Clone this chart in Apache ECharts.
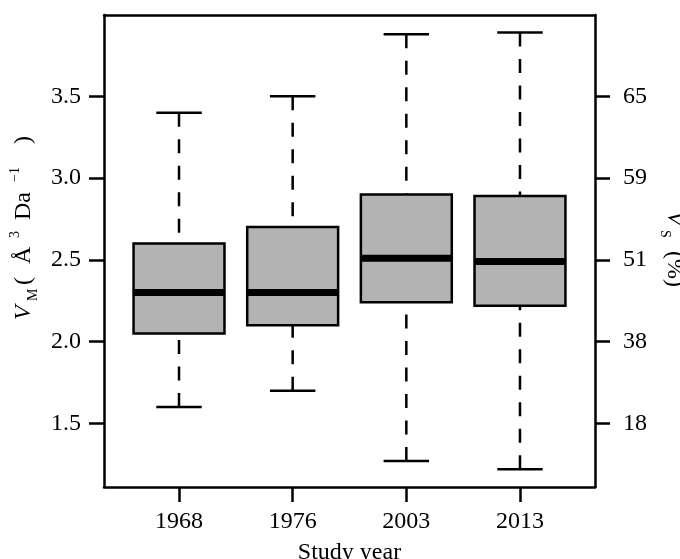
<!DOCTYPE html>
<html>
<head>
<meta charset="utf-8">
<script src="https://cdn.jsdelivr.net/npm/echarts@6/dist/echarts.min.js"></script>
<style>
html, body { margin: 0; padding: 0; background: #fff; }
#chart { width: 680px; height: 559px; }
</style>
</head>
<body>
<div id="chart"></div>
<script>
// Matthews coefficient (V_M) distribution per study year
const studyYears   = ['1968', '1976', '2003', '2013'];
const whiskerLow   = [1.60, 1.70, 1.27, 1.22];
const quartileLow  = [2.05, 2.10, 2.24, 2.22];
const medians      = [2.30, 2.30, 2.51, 2.49];
const quartileHigh = [2.60, 2.70, 2.90, 2.89];
const whiskerHigh  = [3.40, 3.50, 3.88, 3.89];

// Tick positions on the V_M scale and the matching solvent-content labels
const vmTicks       = [1.5, 2.0, 2.5, 3.0, 3.5];
const vmTickLabels  = ['1.5', '2.0', '2.5', '3.0', '3.5'];
const solventLabels = ['18', '38', '51', '59', '65'];

const yearPositions = studyYears.map((_, i) => i + 1);
const boxRows = studyYears.map((_, i) => [
  yearPositions[i], whiskerLow[i], quartileLow[i], medians[i], quartileHigh[i], whiskerHigh[i]
]);

const FONT = 'Liberation Serif';
const INK = '#000';
const LW = 2.5;

function labelFor(values, labels) {
  return v => {
    const k = values.findIndex(t => Math.abs(t - v) < 1e-6);
    return k >= 0 ? labels[k] : '';
  };
}

const baseLabel = { fontFamily: FONT, fontSize: 24, color: INK };

// rich-text token styles for the axis titles (plotmath-like spacing)
function tok(size, width, extra) {
  return Object.assign({ fontFamily: FONT, fontSize: size, fontStyle: 'normal', color: INK,
    lineHeight: size > 20 ? 32 : 14, width: width, align: 'left' }, extra || {});
}
const SUB = { verticalAlign: 'bottom' };
const SUP = { verticalAlign: 'top' };

const chart = echarts.init(document.getElementById('chart'), null, { renderer: 'canvas' });

chart.setOption({
  backgroundColor: '#fff',
  animation: false,
  grid: { left: 104, top: 15, width: 491, height: 472, containLabel: false, outerBoundsMode: 'none' },
  xAxis: [
    {
      type: 'value', position: 'bottom', min: 0.34, max: 4.66,
      axisLine: { onZero: false, lineStyle: { color: INK, width: LW } },
      axisTick: { customValues: yearPositions, length: 15, lineStyle: { color: INK, width: LW } },
      axisLabel: Object.assign({ customValues: yearPositions, margin: 23,
        formatter: v => studyYears[Math.round(v) - 1] }, baseLabel),
      splitLine: { show: false },
      name: 'Study year', nameLocation: 'middle', nameGap: 54,
      nameTextStyle: baseLabel
    },
    {
      type: 'value', position: 'top', min: 0.34, max: 4.66,
      axisLine: { onZero: false, lineStyle: { color: INK, width: LW } },
      axisTick: { show: false }, axisLabel: { show: false }, splitLine: { show: false }
    }
  ],
  yAxis: [
    {
      type: 'value', position: 'left', min: 1.111, max: 3.997,
      axisLine: { onZero: false, lineStyle: { color: INK, width: LW } },
      axisTick: { customValues: vmTicks, length: 15, lineStyle: { color: INK, width: LW } },
      axisLabel: Object.assign({ customValues: vmTicks, margin: 23,
        formatter: labelFor(vmTicks, vmTickLabels) }, baseLabel),
      splitLine: { show: false },
      name: '{pad| }{v|V}{m|M}{lp|(}{ang|Å}{s3|3}{da|Da}{sm|−1}{rp|)}',
      nameLocation: 'middle', nameGap: 62,
      nameTextStyle: {
        fontFamily: FONT, color: INK,
        rich: {
          pad: tok(24, 48),
          v:   tok(24, 19, { fontStyle: 'italic' }),
          m:   tok(14, 16, SUB),
          lp:  tok(24, 21),
          ang: tok(24, 26),
          s3:  tok(14, 18, SUP),
          da:  tok(24, 38),
          sm:  tok(14, 38, SUP),
          rp:  tok(24, 10)
        }
      }
    },
    {
      type: 'value', position: 'right', min: 1.111, max: 3.997,
      axisLine: { onZero: false, lineStyle: { color: INK, width: LW } },
      axisTick: { customValues: vmTicks, length: 15, lineStyle: { color: INK, width: LW } },
      axisLabel: Object.assign({ customValues: vmTicks, margin: 28,
        formatter: labelFor(vmTicks, solventLabels) }, baseLabel),
      splitLine: { show: false },
      name: '{v|V}{s|S}{t|(%)}',
      nameLocation: 'middle', nameGap: 57, nameRotate: -90,
      nameTextStyle: {
        fontFamily: FONT, color: INK,
        rich: {
          v: tok(24, 19, { fontStyle: 'italic' }),
          s: tok(14, 21, SUB),
          t: tok(24, 40)
        }
      }
    }
  ],
  series: [{
    type: 'custom',
    xAxisIndex: 0, yAxisIndex: 0,
    clip: false,
    encode: { x: 0, y: [1, 2, 3, 4, 5] },
    data: boxRows,
    renderItem: function (params, api) {
      const x = api.value(0);
      const pLow = api.coord([x, api.value(1)]);
      const pQ1 = api.coord([x, api.value(2)]);
      const pMed = api.coord([x, api.value(3)]);
      const pQ3 = api.coord([x, api.value(4)]);
      const pHigh = api.coord([x, api.value(5)]);
      const boxW = api.size([0.8, 0])[0];
      const stapleW = boxW / 2;
      const cx = pLow[0];
      const dashed = { stroke: INK, lineWidth: LW, lineDash: [14, 12.5], fill: null };
      const solid = { stroke: INK, lineWidth: LW, fill: null };
      return {
        type: 'group',
        children: [
          { type: 'line', shape: { x1: cx, y1: pHigh[1], x2: cx, y2: pQ3[1] }, style: dashed },
          { type: 'line', shape: { x1: cx, y1: pLow[1], x2: cx, y2: pQ1[1] }, style: dashed },
          { type: 'line', shape: { x1: cx - stapleW / 2, y1: pHigh[1], x2: cx + stapleW / 2, y2: pHigh[1] }, style: solid },
          { type: 'line', shape: { x1: cx - stapleW / 2, y1: pLow[1], x2: cx + stapleW / 2, y2: pLow[1] }, style: solid },
          { type: 'rect', shape: { x: cx - boxW / 2, y: pQ3[1], width: boxW, height: pQ1[1] - pQ3[1] },
            style: { fill: '#b3b3b3', stroke: INK, lineWidth: LW } },
          { type: 'line', shape: { x1: cx - boxW / 2, y1: pMed[1], x2: cx + boxW / 2, y2: pMed[1] },
            style: { stroke: INK, lineWidth: 7, fill: null } }
        ]
      };
    }
  }]
});
</script>
</body>
</html>
